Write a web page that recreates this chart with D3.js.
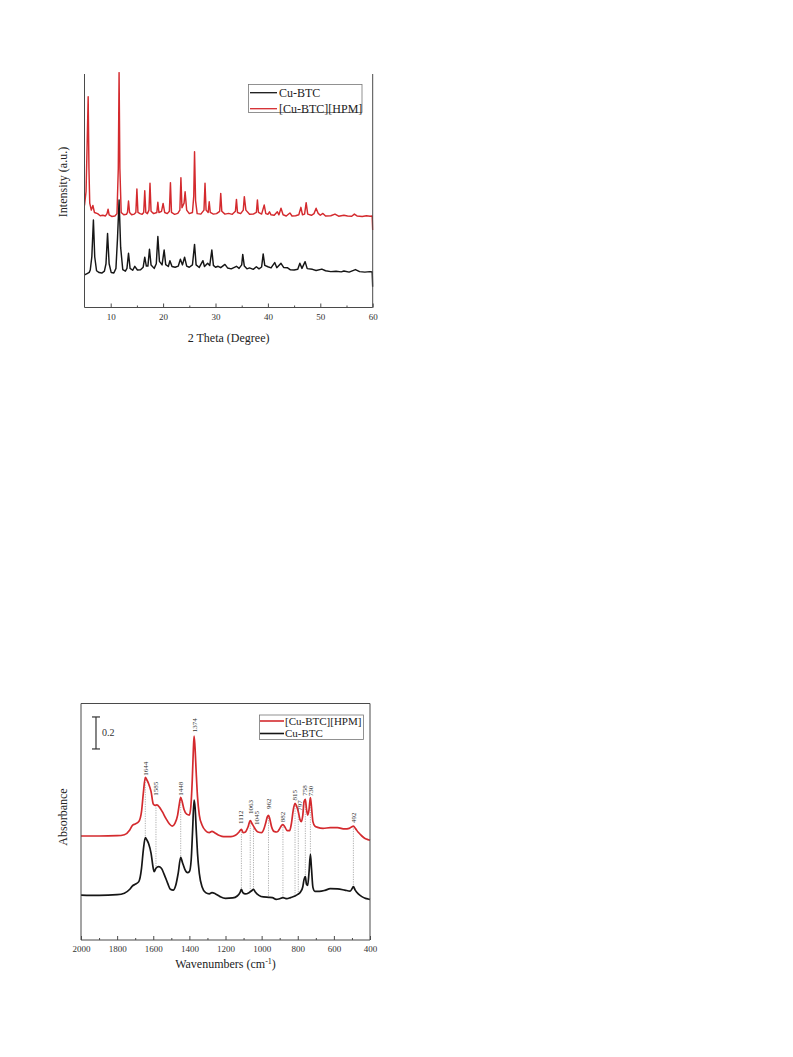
<!DOCTYPE html>
<html><head><meta charset="utf-8">
<script src="https://cdn.jsdelivr.net/npm/d3@7/dist/d3.min.js"></script>
<style>body{margin:0;background:#fff}svg{display:block}text{font-family:"Liberation Serif","Times New Roman",serif}</style>
</head><body><svg id="c" width="793" height="1057"></svg>
<script>
// ---------------- DATA ----------------
const seriesNames = ["Cu-BTC", "[Cu-BTC][HPM]"];
const seriesColors = ["#161616", "#d42a2e"];

// XRD: [2theta, intensity (a.u.)]
const xrdCuBTC = [[5.0,14.2],[5.5,14.8],[5.9,15.3],[6.1,16.3],[6.4,22],[6.7,37.8],[6.95,22],[7.3,16],[7.8,15.2],[8.3,15],[8.8,15.8],[9.1,19],[9.4,32.0],[9.7,19],[10.1,15.2],[10.6,15],[11.0,17],[11.3,30],[11.6,46.4],[11.9,26],[12.3,16.5],[12.8,15.8],[13.1,17],[13.4,23.5],[13.7,17],[14.2,16.2],[14.6,17.9],[15.1,16.3],[15.7,16.4],[16.2,17.5],[16.5,21.8],[16.8,18],[17.1,18],[17.4,25.2],[17.7,18.5],[18.3,17],[18.7,19],[19.0,30.7],[19.3,20],[19.8,18.5],[20.2,24.9],[20.5,18.6],[21.0,17.8],[21.3,20.3],[21.7,17.8],[22.3,17.5],[22.9,18],[23.3,20.9],[23.7,18.5],[24.1,21.8],[24.5,18],[25.0,17.5],[25.6,18.5],[26.0,27.3],[26.3,18.5],[26.9,17.4],[27.6,20.3],[27.9,17.8],[28.5,19.2],[28.9,18.2],[29.3,24.9],[29.6,18.3],[30.0,17.5],[30.5,17.9],[31.0,17.3],[31.8,18.7],[32.3,17.2],[33.0,16.8],[34.0,17.9],[34.5,17],[35.0,18.5],[35.2,23.0],[35.5,18],[36.0,16.8],[36.5,17.2],[37.2,16.6],[37.8,17.7],[38.3,16.8],[38.8,17.6],[39.1,23.2],[39.4,18.3],[40.0,17.7],[40.6,17.2],[41.3,19.5],[41.7,17.3],[42.5,19.2],[43.0,17.4],[43.7,17.3],[44.3,16.4],[45.0,16.3],[45.7,16.6],[46.1,19.2],[46.5,17],[47.1,19.9],[47.5,16.9],[48.5,16.6],[49.2,16.1],[50.3,16.7],[51.0,16],[52.0,15.6],[53.0,15.8],[54.0,15.5],[54.5,15.9],[55.5,15.4],[56.7,16.5],[57.5,15.6],[58.5,15.4],[59.5,15.6],[59.9,15.5],[60.0,9.1]];

const xrdCuBTCHPM = [[5.0,44],[5.3,50],[5.5,70],[5.7,90.7],[5.85,60],[6.0,45],[6.3,42],[6.6,44],[6.9,41],[7.5,40.5],[8.0,39.6],[8.5,39.8],[9.0,39.5],[9.3,40.5],[9.5,42.4],[9.7,40],[10.2,39.3],[10.8,39.5],[11.2,40.5],[11.45,60],[11.6,101],[11.75,60],[12.0,41],[12.5,40],[13.0,40.2],[13.2,41],[13.4,45.9],[13.6,41],[14.0,40],[14.5,40.3],[14.8,41],[15.0,51.1],[15.2,41],[15.6,40.5],[16.0,40.2],[16.3,41],[16.5,50.3],[16.7,41],[17.0,40.5],[17.3,42],[17.5,53.5],[17.7,41.5],[18.2,40.5],[18.8,41],[19.0,45.4],[19.2,41],[19.7,41.5],[20.0,44.9],[20.3,41],[20.8,40.5],[21.2,41.5],[21.4,53.8],[21.6,41],[22.2,40.2],[22.8,40.6],[23.2,42],[23.4,55.9],[23.6,43],[24.0,45],[24.2,49.9],[24.5,42],[25.0,40.5],[25.6,41],[25.85,48],[26.0,67.1],[26.2,46],[26.5,40.5],[27.2,40.3],[27.8,42],[28.0,53.5],[28.2,42],[28.6,41],[28.8,45.6],[29.0,41],[29.6,40.3],[30.2,40.5],[30.8,41.5],[31.0,49.2],[31.2,41.5],[31.8,40.3],[32.5,40.6],[33.2,40.2],[33.8,41.5],[34.0,46.6],[34.2,41],[34.8,40.5],[35.3,42],[35.5,47.8],[35.8,42],[36.5,40.2],[37.2,40.3],[37.8,41],[38.0,46.4],[38.2,41],[38.8,40.3],[39.3,44.2],[39.6,40.5],[40.0,40.2],[40.3,41.3],[40.6,40],[41.2,39.8],[41.8,41.3],[42.1,40],[42.5,42.8],[42.9,40],[43.5,39.5],[44.2,40.8],[44.6,39.5],[45.3,39.6],[45.9,40],[46.3,43.2],[46.6,40],[47.0,40.3],[47.3,45.2],[47.6,40.3],[48.3,39.8],[48.8,40.5],[49.2,42.8],[49.6,40.6],[50.0,39.8],[50.5,40.6],[51.0,39.5],[52.0,39.6],[52.8,40.3],[53.5,39.4],[54.5,39.8],[55.2,39.5],[56.0,39.4],[56.5,40.3],[57.0,39.5],[58.0,39.3],[58.8,39.6],[59.5,39.4],[59.9,39.5],[60.0,33.5]];

const xrdTicks = [10, 20, 30, 40, 50, 60];
const xrdMinorTicks = [15, 25, 35, 45, 55];

// FTIR: [wavenumber, absorbance (offset)]
const ftirCuBTCHPM = [[2000,0.650],[1900,0.650],[1800,0.652],[1760,0.658],[1730,0.688],[1715,0.717],[1700,0.725],[1680,0.740],[1665,0.802],[1655,0.917],[1644,1.017],[1635,1.000],[1625,0.975],[1612,0.927],[1600,0.850],[1590,0.842],[1580,0.844],[1565,0.829],[1550,0.802],[1530,0.760],[1510,0.725],[1495,0.712],[1480,0.729],[1465,0.781],[1455,0.854],[1448,0.892],[1440,0.865],[1430,0.817],[1415,0.787],[1400,0.781],[1392,0.833],[1384,1.000],[1378,1.188],[1374,1.275],[1369,1.208],[1362,1.042],[1355,0.896],[1345,0.781],[1330,0.719],[1310,0.683],[1290,0.671],[1275,0.679],[1260,0.671],[1240,0.656],[1220,0.648],[1200,0.646],[1170,0.646],[1145,0.654],[1125,0.675],[1112,0.692],[1102,0.671],[1090,0.675],[1075,0.708],[1063,0.746],[1052,0.725],[1045,0.712],[1035,0.692],[1020,0.675],[1000,0.671],[988,0.692],[977,0.733],[968,0.771],[962,0.779],[955,0.758],[945,0.708],[932,0.679],[915,0.675],[900,0.696],[890,0.715],[882,0.721],[872,0.708],[858,0.683],[845,0.683],[835,0.729],[825,0.812],[815,0.854],[807,0.838],[797,0.802],[788,0.754],[780,0.740],[772,0.781],[765,0.865],[758,0.879],[752,0.823],[745,0.781],[738,0.812],[730,0.890],[724,0.833],[716,0.740],[705,0.712],[690,0.704],[660,0.698],[620,0.702],[580,0.702],[540,0.694],[515,0.698],[500,0.708],[492,0.712],[480,0.696],[465,0.673],[445,0.650],[425,0.633],[410,0.627],[400,0.623]];

const ftirCuBTC = [[2000,0.281],[1900,0.279],[1800,0.283],[1760,0.292],[1730,0.317],[1715,0.338],[1700,0.348],[1680,0.365],[1665,0.448],[1655,0.562],[1644,0.640],[1635,0.625],[1625,0.600],[1612,0.542],[1600,0.448],[1595,0.427],[1585,0.448],[1570,0.458],[1555,0.448],[1540,0.412],[1520,0.354],[1505,0.317],[1490,0.312],[1475,0.344],[1462,0.417],[1448,0.517],[1438,0.483],[1425,0.442],[1410,0.421],[1400,0.427],[1390,0.500],[1382,0.688],[1374,0.875],[1368,0.823],[1362,0.688],[1355,0.542],[1345,0.417],[1330,0.333],[1310,0.296],[1290,0.288],[1275,0.296],[1255,0.288],[1230,0.271],[1200,0.260],[1160,0.263],[1135,0.275],[1120,0.296],[1112,0.317],[1104,0.296],[1090,0.288],[1070,0.296],[1055,0.308],[1045,0.317],[1035,0.300],[1015,0.279],[990,0.269],[960,0.267],[940,0.265],[920,0.254],[900,0.258],[882,0.265],[860,0.258],[840,0.265],[815,0.275],[800,0.285],[785,0.300],[772,0.333],[765,0.379],[758,0.396],[752,0.350],[745,0.342],[738,0.417],[730,0.535],[724,0.448],[716,0.329],[705,0.304],[680,0.304],[650,0.310],[620,0.321],[580,0.319],[540,0.312],[510,0.306],[498,0.323],[492,0.333],[482,0.312],[465,0.288],[445,0.271],[425,0.260],[410,0.256],[400,0.254]];

const ftirTicks = [2000, 1800, 1600, 1400, 1200, 1000, 800, 600, 400];
const ftirMinorTicks = [1900, 1700, 1500, 1300, 1100, 900, 700, 500];
const peakLabels = [1644, 1585, 1448, 1374, 1112, 1063, 1045, 962, 882, 815, 797, 758, 730, 492];
const peakLabelX = [1644, 1585, 1448, 1374, 1114, 1064, 1026, 962, 882, 819, 792, 761, 731, 492];
const peakLabelY = [1.021, 0.896, 0.896, 1.292, 0.719, 0.781, 0.712, 0.8125, 0.729, 0.865, 0.802, 0.896, 0.892, 0.725];
const peakGuides = [1644, 1585, 1448, 1112, 1063, 1045, 962, 882, 815, 797, 758, 730, 492];
const scaleBar = {value: 0.2, base: 1.194};

// ---------------- DRAW ----------------
const svg = d3.select("#c");
const axisColor = "#4a4a4a";

function frameLines(g, l, r, t, b, sides) {
  sides.forEach(s => {
    const ln = g.append("line").attr("stroke", axisColor).attr("stroke-width", 1);
    if (s === "left") ln.attr("x1", l).attr("x2", l).attr("y1", t).attr("y2", b);
    if (s === "right") ln.attr("x1", r).attr("x2", r).attr("y1", t).attr("y2", b);
    if (s === "top") ln.attr("x1", l).attr("x2", r).attr("y1", t).attr("y2", t);
    if (s === "bottom") ln.attr("x1", l).attr("x2", r).attr("y1", b).attr("y2", b);
  });
}

function bottomAxis(g, x, b, major, minor) {
  const ax = g.append("g").attr("transform", `translate(0,${b})`)
    .call(d3.axisBottom(x).tickValues(major).tickSizeInner(-4).tickSizeOuter(0).tickPadding(6).tickFormat(d3.format("d")));
  ax.select(".domain").remove();
  ax.selectAll("line").attr("stroke", axisColor);
  ax.selectAll("text").attr("font-size", 9).attr("fill", "#333").style("font-family", '"Liberation Serif", serif');
  const mn = g.append("g").attr("transform", `translate(0,${b})`)
    .call(d3.axisBottom(x).tickValues(minor).tickSizeInner(-2).tickSizeOuter(0).tickFormat(""));
  mn.select(".domain").remove();
  mn.selectAll("line").attr("stroke", axisColor);
}

// ===== Chart 1: XRD =====
{
  const L = 84.5, R = 372.7, T = 74, B = 307.5;
  const x = d3.scaleLinear().domain([5, 60]).range([L, R]);
  const y = d3.scaleLinear().domain([0, 100]).range([308, 75]);
  const g = svg.append("g");
  g.append("clipPath").attr("id", "clip1").append("rect").attr("x", L).attr("y", T - 2).attr("width", R - L + 1).attr("height", B - T + 3);
  const line = d3.line().x(d => x(d[0])).y(d => y(d[1]));
  g.append("path").datum(xrdCuBTC).attr("d", line).attr("fill", "none")
    .attr("stroke", seriesColors[0]).attr("stroke-width", 1.45).attr("stroke-linejoin", "round").attr("clip-path", "url(#clip1)");
  g.append("path").datum(xrdCuBTCHPM).attr("d", line).attr("fill", "none")
    .attr("stroke", seriesColors[1]).attr("stroke-width", 1.45).attr("stroke-linejoin", "round").attr("clip-path", "url(#clip1)");
  frameLines(g, L, R, T, B, ["left", "right", "bottom"]);
  bottomAxis(g, x, B, xrdTicks, xrdMinorTicks);
  g.append("text").attr("x", (L + R) / 2).attr("y", 341.5).attr("text-anchor", "middle")
    .attr("font-size", 12).attr("fill", "#222").text("2 Theta (Degree)");
  g.append("text").attr("transform", `translate(67,182) rotate(-90)`).attr("text-anchor", "middle")
    .attr("font-size", 12).attr("fill", "#222").text("Intensity (a.u.)");
  // legend
  const lg = g.append("g");
  lg.append("rect").attr("x", 248.5).attr("y", 84.5).attr("width", 113.5).attr("height", 28)
    .attr("fill", "#fff").attr("stroke", "#777").attr("stroke-width", 0.8);
  [0, 1].forEach(i => {
    const yy = 92.7 + i * 16;
    lg.append("line").attr("x1", 250).attr("x2", 277).attr("y1", yy).attr("y2", yy)
      .attr("stroke", seriesColors[i]).attr("stroke-width", 1.3);
    lg.append("text").attr("x", 279).attr("y", yy + 4).attr("font-size", 12).attr("fill", "#222").text(seriesNames[i]);
  });
}

// ===== Chart 2: FTIR =====
{
  const L = 81, R = 370, T = 703.5, B = 940;
  const x = d3.scaleLinear().domain([2000, 400]).range([L, R]);
  const y = d3.scaleLinear().domain([0, 1]).range([940, 780]);
  const g = svg.append("g");
  const interp = (arr, w) => {
    for (let i = 0; i < arr.length - 1; i++) {
      const a = arr[i], b = arr[i + 1];
      if (w <= a[0] && w >= b[0]) { const t = (a[0] - w) / (a[0] - b[0]); return a[1] + t * (b[1] - a[1]); }
    }
    return arr[arr.length - 1][1];
  };
  // guides
  peakGuides.forEach(w => {
    g.append("line").attr("x1", x(w)).attr("x2", x(w))
      .attr("y1", y(interp(ftirCuBTCHPM, w))).attr("y2", y(interp(ftirCuBTC, w)))
      .attr("stroke", "#9a9a9a").attr("stroke-width", 0.8).attr("stroke-dasharray", "1.2,1.2");
  });
  const line = d3.line().x(d => x(d[0])).y(d => y(d[1])).curve(d3.curveMonotoneX);
  g.append("path").datum(ftirCuBTC).attr("d", line).attr("fill", "none")
    .attr("stroke", seriesColors[0]).attr("stroke-width", 1.7);
  g.append("path").datum(ftirCuBTCHPM).attr("d", line).attr("fill", "none")
    .attr("stroke", seriesColors[1]).attr("stroke-width", 1.7);
  // peak labels
  peakLabels.forEach((p, i) => {
    g.append("text").attr("transform", `translate(${x(peakLabelX[i])},${y(peakLabelY[i]) - 1}) rotate(-90)`)
      .attr("dy", "0.35em").attr("font-size", 7).attr("fill", "#333").text(p);
  });
  frameLines(g, L, R, T, B, ["left", "right", "top", "bottom"]);
  bottomAxis(g, x, B, ftirTicks, ftirMinorTicks);
  const title = g.append("text").attr("x", (L + R) / 2).attr("y", 968).attr("text-anchor", "middle")
    .attr("font-size", 12).attr("fill", "#222");
  title.append("tspan").text("Wavenumbers (cm");
  title.append("tspan").attr("baseline-shift", "super").attr("font-size", 8).text("-1");
  title.append("tspan").text(")");
  g.append("text").attr("transform", `translate(67,817) rotate(-90)`).attr("text-anchor", "middle")
    .attr("font-size", 12).attr("fill", "#222").text("Absorbance");
  // scale bar
  const sbx = x(1917);
  const y0 = y(scaleBar.base), y1 = y(scaleBar.base + scaleBar.value);
  g.append("line").attr("x1", sbx).attr("x2", sbx).attr("y1", y0).attr("y2", y1).attr("stroke", "#333").attr("stroke-width", 1.2);
  [y0, y1].forEach(yy => g.append("line").attr("x1", sbx - 4).attr("x2", sbx + 4).attr("y1", yy).attr("y2", yy).attr("stroke", "#333").attr("stroke-width", 1.2));
  g.append("text").attr("x", sbx + 6).attr("y", (y0 + y1) / 2 + 3).attr("font-size", 10).attr("fill", "#333").text(d3.format(".1f")(scaleBar.value));
  // legend (HPM first)
  const lg = g.append("g");
  lg.append("rect").attr("x", 259.5).attr("y", 715).attr("width", 104).attr("height", 24.5)
    .attr("fill", "#fff").attr("stroke", "#777").attr("stroke-width", 0.8);
  [1, 0].forEach((si, k) => {
    const yy = 721 + k * 12.5;
    lg.append("line").attr("x1", 260).attr("x2", 284).attr("y1", yy).attr("y2", yy)
      .attr("stroke", seriesColors[si]).attr("stroke-width", 1.6);
    lg.append("text").attr("x", 285).attr("y", yy + 3.8).attr("font-size", 11).attr("fill", "#222").text(seriesNames[si]);
  });
}
</script>
</body></html>
